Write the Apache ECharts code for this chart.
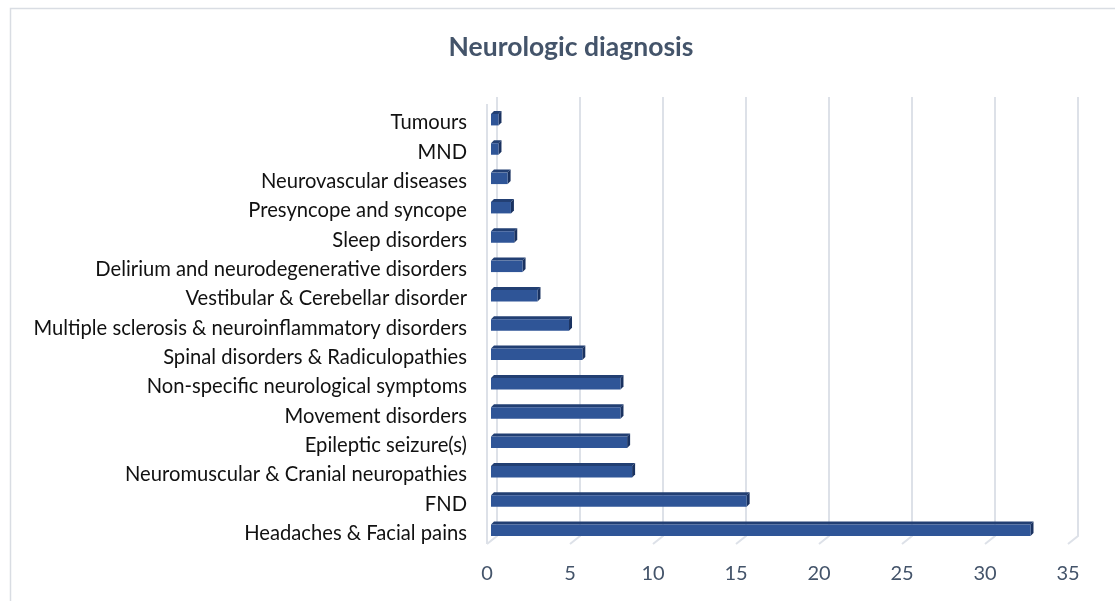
<!DOCTYPE html>
<html><head><meta charset="utf-8">
<script src="https://cdn.jsdelivr.net/npm/echarts@6/dist/echarts.min.js"></script>
<style>html,body{margin:0;padding:0;background:#fff}#c{width:1115px;height:601px}</style>
</head><body><div id="c"></div>
<script>
const titleText = 'Neurologic diagnosis';
const categories = [
  'Tumours','MND','Neurovascular diseases','Presyncope and syncope','Sleep disorders',
  'Delirium and neurodegenerative disorders','Vestibular & Cerebellar disorder',
  'Multiple sclerosis & neuroinflammatory disorders','Spinal disorders & Radiculopathies',
  'Non-specific neurological symptoms','Movement disorders','Epileptic seizure(s)',
  'Neuromuscular & Cranial neuropathies','FND','Headaches & Facial pains'
];
const values = [0.45,0.45,1.0,1.2,1.4,1.9,2.8,4.7,5.5,7.8,7.8,8.2,8.5,15.4,32.5];
const tickValues = [0,5,10,15,20,25,30,35];

const chart = echarts.init(document.getElementById('c'));
const font = 'Lato, "Open Sans", sans-serif';
chart.setOption({
  animation:false,
  title:{text:titleText,left:566,top:29,textAlign:'center',
    textStyle:{fontFamily:font,fontWeight:'bold',fontSize:26.5,color:'#44546a'}},
  graphic:[{type:'rect',shape:{x:10.5,y:8.5,width:1300,height:800},
    style:{fill:'none',stroke:'#d9dde3',lineWidth:1.5},silent:true,z:-10}],
  grid:{left:487,right:47,top:103,bottom:58,containLabel:false},
  xAxis:{type:'value',min:0,max:35,interval:5,
    axisLine:{show:false},axisTick:{show:false},splitLine:{show:false},
    axisLabel:{margin:21,fontFamily:font,fontSize:20,color:'#44546a'}},
  yAxis:{type:'category',data:categories,inverse:true,
    axisLine:{show:false},axisTick:{show:false},
    axisLabel:{margin:20,formatter:v=>'{a|'+v+'}',
      rich:{a:{fontFamily:font,fontSize:20.2,color:'#111',padding:[10,0,0,0]}}}},
  series:[
    {type:'custom',z:1,data:tickValues.map(v=>[v]),
      encode:{x:0},
      renderItem:function(params,api){
        const cs=params.coordSys;
        const x=api.coord([api.value(0),0])[0];
        const bottom=cs.y+cs.height;
        const top=cs.y;
        const ch=[{type:'polyline',shape:{points:[[x,bottom+1],[x+10,bottom-7],[x+10,top-6]]},
          style:{stroke:'#dde1e8',lineWidth:2,fill:'none'}}];
        if(api.value(0)===0){
          ch.push({type:'line',shape:{x1:x,y1:top+1,x2:x,y2:bottom+1},style:{stroke:'#dde1e8',lineWidth:2}});
        }
        return {type:'group',children:ch};
      }},
    {type:'custom',z:2,data:values.map((v,i)=>[v,i]),
      encode:{x:0,y:1},
      renderItem:function(params,api){
        const p0=api.coord([0,api.value(1)]);
        const p1=api.coord([api.value(0),api.value(1)]);
        const off=4, h=11.5, d=3;
        const x0=p0[0]+off, x1=p1[0]+off;
        const yt=p0[1]-h/2+2, yb=yt+h;
        return {type:'group',children:[
          {type:'polygon',shape:{points:[[x0,yt],[x0+d,yt-d],[x1+d,yt-d],[x1,yt]]},style:{fill:'#223f73'}},
          {type:'polygon',shape:{points:[[x1,yt],[x1+d,yt-d],[x1+d,yb-d],[x1,yb]]},style:{fill:'#1a3260'}},
          {type:'rect',shape:{x:x0,y:yt,width:x1-x0,height:h},style:{fill:'#2f5597'}}
        ]};
      }}
  ]
});
</script></body></html>
